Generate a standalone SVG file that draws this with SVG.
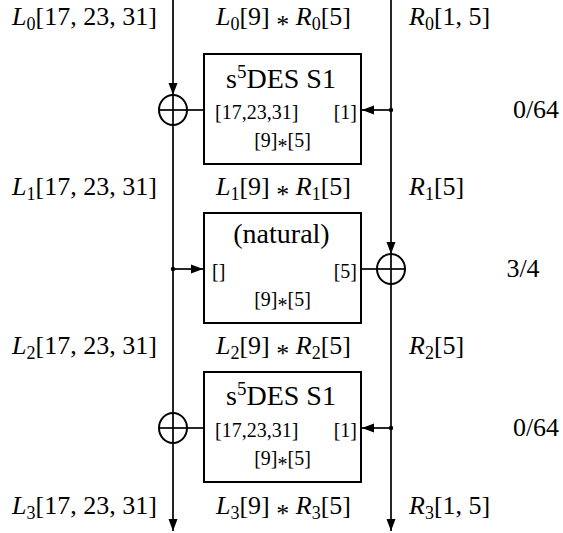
<svg xmlns="http://www.w3.org/2000/svg" width="563" height="533" viewBox="0 0 563 533">
<defs>
<style>
text{font-family:"Liberation Serif","Times New Roman",serif;fill:#000}
.lab{font-size:26px}
.title{font-size:28px}
.port{font-size:20px}
.it{font-style:italic}
.box{fill:#fff;stroke:#000;stroke-width:2}
.ln{fill:none;stroke:#000;stroke-width:1.7}
.xor{fill:none;stroke:#000;stroke-width:2}
.dot{fill:#000}
</style>
<marker id="arr" markerUnits="userSpaceOnUse" markerWidth="13" markerHeight="10" refX="12" refY="5" orient="auto">
<path d="M0,0.5 L12,5 L0,9.5 z" fill="#000"/>
</marker>
</defs>
<rect width="563" height="533" fill="#fff"/>

<g id="connectors">
<line class="ln" x1="173" y1="0" x2="173" y2="95" marker-end="url(#arr)"/>
<line class="ln" x1="173" y1="95" x2="173" y2="531" marker-end="url(#arr)"/>
<line class="ln" x1="391" y1="0" x2="391" y2="254" marker-end="url(#arr)"/>
<line class="ln" x1="391" y1="254" x2="391" y2="531" marker-end="url(#arr)"/>
<line class="ln" x1="391" y1="110" x2="362" y2="110" marker-end="url(#arr)"/>
<line class="ln" x1="173" y1="269" x2="203" y2="269" marker-end="url(#arr)"/>
<line class="ln" x1="391" y1="428" x2="362" y2="428" marker-end="url(#arr)"/>
<line class="ln" x1="187" y1="110" x2="204" y2="110"/>
<line class="ln" x1="361" y1="269" x2="377" y2="269"/>
<line class="ln" x1="187" y1="428" x2="204" y2="428"/>
<circle class="dot" cx="391" cy="110" r="2.2"/>
<circle class="dot" cx="173" cy="269" r="2.2"/>
<circle class="dot" cx="391" cy="428" r="2.2"/>
</g>

<g id="xor0">
<ellipse class="xor" cx="173" cy="110" rx="14" ry="15"/>
<line class="ln" x1="159" y1="110" x2="187" y2="110"/>
</g>
<g id="xor1">
<ellipse class="xor" cx="391" cy="269" rx="14" ry="15"/>
<line class="ln" x1="377" y1="269" x2="405" y2="269"/>
</g>
<g id="xor2">
<ellipse class="xor" cx="173" cy="428" rx="14" ry="15"/>
<line class="ln" x1="159" y1="428" x2="187" y2="428"/>
</g>

<g id="box0">
<rect class="box" x="204" y="54" width="157" height="110"/>
<text class="title" x="281" y="88" text-anchor="middle">s<tspan font-size="19" dy="-10">5</tspan><tspan dy="10">DES S1</tspan></text>
<text class="port" x="215" y="119">[17,23,31]</text>
<text class="port" x="357" y="119" text-anchor="end">[1]</text>
<text class="port" x="282.5" y="147" text-anchor="middle">[9]<tspan dy="6">*</tspan><tspan dy="-6">[5]</tspan></text>
</g>

<g id="box1">
<rect class="box" x="204" y="213" width="157" height="110"/>
<text class="title" x="281.5" y="243" text-anchor="middle">(natural)</text>
<text class="port" x="212" y="278">[]</text>
<text class="port" x="357" y="278" text-anchor="end">[5]</text>
<text class="port" x="282.5" y="306" text-anchor="middle">[9]<tspan dy="6">*</tspan><tspan dy="-6">[5]</tspan></text>
</g>

<g id="box2">
<rect class="box" x="204" y="372" width="157" height="110"/>
<text class="title" x="281" y="405" text-anchor="middle">s<tspan font-size="19" dy="-10">5</tspan><tspan dy="10">DES S1</tspan></text>
<text class="port" x="215" y="437">[17,23,31]</text>
<text class="port" x="357" y="437" text-anchor="end">[1]</text>
<text class="port" x="282.5" y="465" text-anchor="middle">[9]<tspan dy="6">*</tspan><tspan dy="-6">[5]</tspan></text>
</g>

<g id="labels">
<text class="lab" x="84.5" y="25" text-anchor="middle"><tspan class="it">L</tspan><tspan font-size="18" dy="5">0</tspan><tspan dy="-5">[17, 23, 31]</tspan></text>
<text class="lab" x="283.5" y="25" text-anchor="middle"><tspan class="it">L</tspan><tspan font-size="18" dy="5">0</tspan><tspan dy="-5">[9] </tspan><tspan dy="8">*</tspan><tspan dy="-8"> </tspan><tspan class="it">R</tspan><tspan font-size="18" dy="5">0</tspan><tspan dy="-5">[5]</tspan></text>
<text class="lab" x="409" y="25"><tspan class="it">R</tspan><tspan font-size="18" dy="5">0</tspan><tspan dy="-5">[1, 5]</tspan></text>

<text class="lab" x="84.5" y="194.5" text-anchor="middle"><tspan class="it">L</tspan><tspan font-size="18" dy="5">1</tspan><tspan dy="-5">[17, 23, 31]</tspan></text>
<text class="lab" x="283.5" y="194.5" text-anchor="middle"><tspan class="it">L</tspan><tspan font-size="18" dy="5">1</tspan><tspan dy="-5">[9] </tspan><tspan dy="8">*</tspan><tspan dy="-8"> </tspan><tspan class="it">R</tspan><tspan font-size="18" dy="5">1</tspan><tspan dy="-5">[5]</tspan></text>
<text class="lab" x="409" y="194.5"><tspan class="it">R</tspan><tspan font-size="18" dy="5">1</tspan><tspan dy="-5">[5]</tspan></text>

<text class="lab" x="84.5" y="353.5" text-anchor="middle"><tspan class="it">L</tspan><tspan font-size="18" dy="5">2</tspan><tspan dy="-5">[17, 23, 31]</tspan></text>
<text class="lab" x="283.5" y="353.5" text-anchor="middle"><tspan class="it">L</tspan><tspan font-size="18" dy="5">2</tspan><tspan dy="-5">[9] </tspan><tspan dy="8">*</tspan><tspan dy="-8"> </tspan><tspan class="it">R</tspan><tspan font-size="18" dy="5">2</tspan><tspan dy="-5">[5]</tspan></text>
<text class="lab" x="409" y="353.5"><tspan class="it">R</tspan><tspan font-size="18" dy="5">2</tspan><tspan dy="-5">[5]</tspan></text>

<text class="lab" x="84.5" y="513.5" text-anchor="middle"><tspan class="it">L</tspan><tspan font-size="18" dy="5">3</tspan><tspan dy="-5">[17, 23, 31]</tspan></text>
<text class="lab" x="283.5" y="513.5" text-anchor="middle"><tspan class="it">L</tspan><tspan font-size="18" dy="5">3</tspan><tspan dy="-5">[9] </tspan><tspan dy="8">*</tspan><tspan dy="-8"> </tspan><tspan class="it">R</tspan><tspan font-size="18" dy="5">3</tspan><tspan dy="-5">[5]</tspan></text>
<text class="lab" x="409" y="513.5"><tspan class="it">R</tspan><tspan font-size="18" dy="5">3</tspan><tspan dy="-5">[1, 5]</tspan></text>

<text class="lab" x="536" y="118" text-anchor="middle">0/64</text>
<text class="lab" x="523" y="277" text-anchor="middle">3/4</text>
<text class="lab" x="536" y="436" text-anchor="middle">0/64</text>
</g>
</svg>
